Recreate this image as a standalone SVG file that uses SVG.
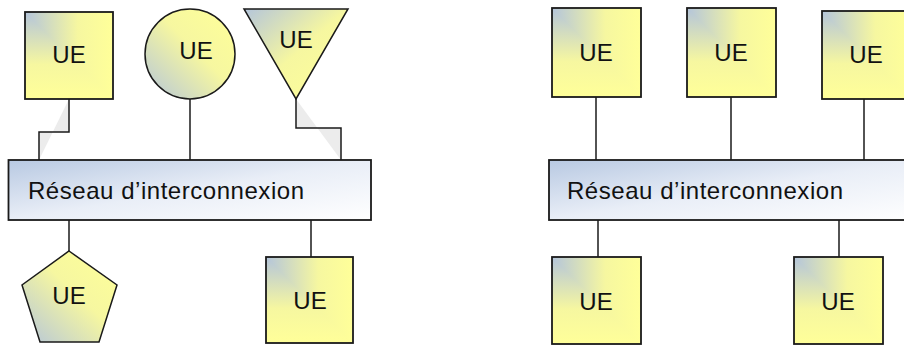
<svg xmlns="http://www.w3.org/2000/svg" width="904" height="345" viewBox="0 0 904 345">
<defs>
<linearGradient id="gH" x1="0" y1="0" x2="1" y2="0">
<stop offset="0" stop-color="#b4c5db"/>
<stop offset="0.6" stop-color="#f6f7a0"/>
<stop offset="1" stop-color="#ffff99"/>
</linearGradient>
<linearGradient id="gV" x1="0" y1="0" x2="0" y2="1">
<stop offset="0" stop-color="#b4c5db"/>
<stop offset="0.6" stop-color="#f6f7a0"/>
<stop offset="1" stop-color="#ffff99"/>
</linearGradient>
<linearGradient id="gBL" x1="0" y1="1" x2="1" y2="0">
<stop offset="0" stop-color="#b4c5db"/>
<stop offset="0.55" stop-color="#f6f7a0"/>
<stop offset="1" stop-color="#ffff99"/>
</linearGradient>
<linearGradient id="gTL" x1="0" y1="0" x2="1" y2="1">
<stop offset="0" stop-color="#b4c5db"/>
<stop offset="0.5" stop-color="#f6f7a0"/>
<stop offset="1" stop-color="#ffff99"/>
</linearGradient>
<linearGradient id="gBar" x1="0" y1="0" x2="1" y2="1">
<stop offset="0" stop-color="#b8c9e2"/>
<stop offset="0.5" stop-color="#e9eef7"/>
<stop offset="1" stop-color="#ffffff"/>
</linearGradient>
</defs>
<style>
.edge{fill:none;stroke:#1a1a1a;stroke-width:1.5}
.shadow{fill:#ececec;stroke:none}
.out{fill:none;stroke:#1a1a1a;stroke-width:1.8}
.seam{fill:url(#gV)}
.ue{font-family:"Liberation Sans",Arial,sans-serif;font-size:24px;fill:#111;text-anchor:middle}
.lbl{font-family:"Liberation Sans",Arial,sans-serif;font-size:24px;fill:#111}
.bar{fill:url(#gBar);stroke:#1a1a1a;stroke-width:1.8}
</style>

<g id="shadows">
<polygon class="shadow" points="69,99 69,132 39,132 39,160"/>
<polygon class="shadow" points="296,99 296,128 341,128 341,160"/>
</g>

<g id="connectors">
<polyline class="edge" points="69,99 69,132 39,132 39,160"/>
<line class="edge" x1="190" y1="99" x2="190" y2="160"/>
<polyline class="edge" points="296,99 296,128 341,128 341,160"/>
<line class="edge" x1="69" y1="220" x2="69" y2="251"/>
<line class="edge" x1="311" y1="220" x2="311" y2="257"/>
<line class="edge" x1="596" y1="97" x2="596" y2="160"/>
<line class="edge" x1="731" y1="97" x2="731" y2="160"/>
<line class="edge" x1="864" y1="99" x2="864" y2="160"/>
<line class="edge" x1="598" y1="220" x2="598" y2="257"/>
<line class="edge" x1="839" y1="220" x2="839" y2="257"/>
</g>

<g id="bar-left">
<rect class="bar" x="8.5" y="160" width="362.5" height="60"/>
<text class="lbl" x="28" y="199" textLength="276" lengthAdjust="spacing">Réseau d’interconnexion</text>
</g>
<g id="bar-right">
<rect class="bar" x="549" y="160" width="370" height="60"/>
<text class="lbl" x="567" y="199" textLength="276" lengthAdjust="spacing">Réseau d’interconnexion</text>
</g>

<g id="ue-square-1">
<rect x="25" y="12" width="88" height="87" fill="url(#gH)"/>
<polygon class="seam" points="25,12 25,99 113,99"/>
<rect class="out" x="25" y="12" width="88" height="87"/>
<text class="ue" x="69" y="63">UE</text>
</g>
<g id="ue-circle">
<circle cx="190" cy="54" r="45" fill="url(#gBL)" stroke="#1a1a1a" stroke-width="1.5"/>
<text class="ue" x="196" y="59">UE</text>
</g>
<g id="ue-triangle">
<polygon points="244,9 348,9 296,99" fill="url(#gTL)" stroke="#1a1a1a" stroke-width="1.5"/>
<text class="ue" x="296" y="48">UE</text>
</g>
<g id="ue-pentagon">
<polygon points="69,251 117,285 99,342 40,342 22,285" fill="url(#gBL)" stroke="#1a1a1a" stroke-width="1.5"/>
<text class="ue" x="69" y="304">UE</text>
</g>
<g id="ue-square-2">
<rect x="266" y="257" width="87" height="86" fill="url(#gH)"/>
<polygon class="seam" points="266,257 266,343 353,343"/>
<rect class="out" x="266" y="257" width="87" height="86"/>
<text class="ue" x="310" y="309">UE</text>
</g>

<g id="ue-r1">
<rect x="552" y="8" width="89" height="89" fill="url(#gH)"/>
<polygon class="seam" points="552,8 552,97 641,97"/>
<rect class="out" x="552" y="8" width="89" height="89"/>
<text class="ue" x="596" y="61">UE</text>
</g>
<g id="ue-r2">
<rect x="687" y="8" width="89" height="89" fill="url(#gH)"/>
<polygon class="seam" points="687,8 687,97 776,97"/>
<rect class="out" x="687" y="8" width="89" height="89"/>
<text class="ue" x="731" y="61">UE</text>
</g>
<g id="ue-r3">
<rect x="822" y="11" width="89" height="88" fill="url(#gH)"/>
<polygon class="seam" points="822,11 822,99 911,99"/>
<rect class="out" x="822" y="11" width="89" height="88"/>
<text class="ue" x="866" y="63">UE</text>
</g>
<g id="ue-r4">
<rect x="552" y="257" width="89" height="87" fill="url(#gH)"/>
<polygon class="seam" points="552,257 552,344 641,344"/>
<rect class="out" x="552" y="257" width="89" height="87"/>
<text class="ue" x="596" y="310">UE</text>
</g>
<g id="ue-r5">
<rect x="794" y="257" width="89" height="87" fill="url(#gH)"/>
<polygon class="seam" points="794,257 794,344 883,344"/>
<rect class="out" x="794" y="257" width="89" height="87"/>
<text class="ue" x="838" y="310">UE</text>
</g>
</svg>
